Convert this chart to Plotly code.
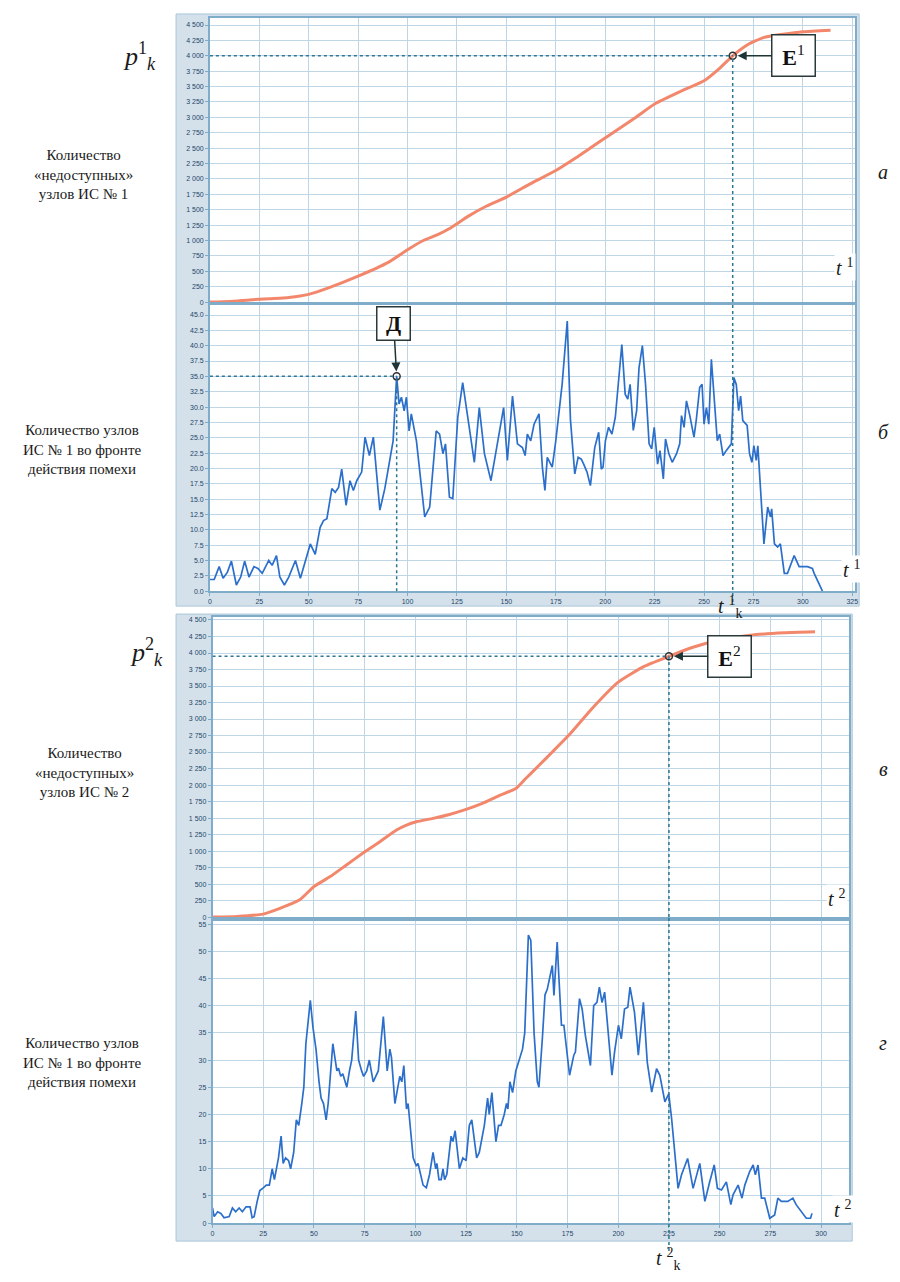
import plotly.graph_objects as go

# ---------------- data ----------------
# panel a: cumulative number of "unavailable" nodes, IS No 1
t_a = [0, 10, 20, 30, 40, 50, 60, 75, 90, 100, 108, 115, 121, 131, 140, 150, 162, 175, 185,
       193, 203, 215, 225, 238, 250, 258, 264.5, 272, 280, 290, 300, 314]
p_a = [0, 10, 35, 55, 75, 125, 230, 420, 640, 850, 1000, 1090, 1190, 1400, 1560, 1705, 1920,
       2137, 2340, 2515, 2731, 2990, 3217, 3420, 3594, 3800, 4000, 4180, 4296, 4350, 4390, 4415]

# panel b: nodes of IS No 1 in the interference front
t_b = [0, 2.2, 4.7, 6.7, 8.9, 10.9, 13.4, 15.6, 17.6, 19.8,
       22.3, 24.3, 26.5, 29.8, 31.5, 33.7, 35.4, 37.7, 39.9, 43.3,
       45.8, 48.3, 50.8, 53.3, 55.8, 57.5, 59.2, 61.7, 63.4, 65.1,
       66.7, 68.9, 70.9, 72.6, 74.3, 76.8, 78.5, 80.7, 82.7, 86.0,
       88.5, 92.7, 94.5, 95.7, 96.9, 98.3, 99.4, 100.8, 101.9, 104.5,
       108.7, 111.2, 114.5, 116.2, 117.9, 119.2, 121.2, 122.9, 125.4, 127.9,
       130.1, 133.8, 136.3, 138.9, 142.2, 145.5, 148.6, 150.5, 153.1, 155.6,
       158.1, 159.5, 160.6, 162.3, 164.0, 166.5, 168.2, 169.5, 170.7, 173.2,
       175.0, 178.2, 180.8, 182.4, 184.6, 186.3, 187.9, 189.1, 190.8, 192.5,
       194.7, 196.7, 198.0, 198.9, 200.1, 201.7, 203.4, 205.1, 206.7, 208.4,
       210.1, 211.4, 212.6, 214.2, 215.9, 217.1, 218.8, 220.4, 222.2, 223.5,
       224.8, 226.5, 227.7, 229.4, 230.5, 232.2, 233.9, 236.1, 237.7, 238.6,
       239.9, 241.1, 242.8, 244.9, 246.1, 247.8, 249.0, 250.0, 251.2, 252.4,
       253.7, 255.4, 256.7, 257.9, 259.6, 261.2, 263.8, 265.1, 266.3, 267.5,
       268.5, 269.6, 271.8, 273.0, 274.2, 275.2, 276.4, 277.2, 280.3, 282.2,
       283.6, 284.2, 285.6, 287.2, 288.6, 290.6, 292.2, 295.6, 298.1, 302.3,
       304.8, 305.7, 308.2, 309.9]
n_b = [1.9, 1.9, 4.0, 2.1, 3.1, 4.9, 1.0, 2.3, 4.9, 2.3,
       4.0, 3.7, 2.9, 5.0, 4.2, 5.8, 2.3, 1.0, 2.3, 5.0,
       2.1, 5.0, 7.7, 6.0, 10.4, 11.5, 11.8, 16.7, 16.1, 16.9,
       19.9, 14.0, 18.0, 16.4, 18.0, 19.4, 25.1, 22.1, 25.1, 13.2,
       16.7, 24.5, 35.0, 30.5, 31.6, 29.4, 31.6, 26.1, 28.9, 24.5,
       12.1, 13.7, 26.1, 25.6, 22.4, 24.0, 15.3, 15.1, 28.3, 34.0,
       28.9, 21.0, 29.9, 22.4, 18.0, 24.0, 29.9, 21.3, 31.8, 24.0,
       23.4, 22.1, 25.6, 24.5, 27.2, 28.9, 20.2, 16.4, 21.8, 20.2,
       24.5, 33.7, 44.0, 28.0, 19.1, 21.8, 21.5, 20.7, 19.4, 17.2,
       23.4, 25.9, 19.9, 20.2, 24.5, 26.7, 25.6, 28.3, 33.7, 40.2,
       32.1, 31.3, 33.7, 26.2, 29.4, 36.4, 40.0, 33.7, 24.0, 23.2,
       26.7, 20.7, 22.9, 18.3, 24.8, 22.4, 21.0, 22.4, 24.0, 28.6,
       26.7, 31.0, 28.6, 25.1, 28.0, 33.2, 33.7, 27.2, 29.9, 27.2,
       37.8, 31.0, 24.5, 25.6, 22.1, 22.9, 24.0, 34.8, 33.7, 29.4,
       31.8, 27.8, 27.0, 22.4, 21.0, 23.7, 21.3, 23.7, 7.7, 13.7,
       12.1, 13.4, 7.7, 7.2, 7.7, 2.9, 2.9, 5.8, 4.0, 4.0,
       3.7, 2.9, 1.2, 0.0]

# panel c: cumulative number of "unavailable" nodes, IS No 2
t_c = [0, 12, 25, 33.5, 43, 50, 58, 66, 74, 82.5, 90.7, 95.6, 100.5, 108.7, 116.8, 125, 133,
       141, 149.5, 154.4, 161, 167.5, 175.6, 187, 200, 213, 225, 236, 249, 265, 282, 297]
p_c = [0, 10, 45, 136, 262, 463, 614, 790, 966, 1143, 1319, 1394, 1444, 1495, 1555, 1631, 1721,
       1837, 1948, 2099, 2300, 2501, 2753, 3156, 3558, 3800, 3950, 4080, 4190, 4270, 4305, 4320]

# panel d: nodes in the interference front (second case)
t_d = [0, 0.8, 2.5, 4.1, 5.7, 8.2, 9.8, 11.4, 13.1, 14.7,
       16.5, 18.5, 19.5, 20.5, 22.0, 23.3, 25.0, 26.5, 28.0, 29.4,
       30.5, 32.5, 33.8, 34.8, 36.0, 37.5, 38.5, 40.0, 41.3, 42.5,
       44.0, 45.0, 46.0, 47.5, 48.2, 49.5, 51.0, 52.5, 53.5, 54.7,
       56.0, 57.0, 59.3, 60.5, 61.3, 62.1, 63.2, 64.2, 66.2, 67.5,
       68.6, 70.6, 72.0, 73.5, 74.5, 76.0, 77.3, 79.2, 81.7, 84.2,
       86.1, 87.4, 88.2, 89.9, 91.0, 92.3, 93.3, 94.3, 95.6, 96.4,
       98.9, 100.5, 101.3, 103.8, 105.4, 107.0, 108.7, 110.0, 110.6, 111.6,
       112.7, 113.6, 114.4, 115.5, 117.6, 118.5, 119.6, 121.7, 123.4, 125.0,
       126.6, 127.8, 130.2, 131.5, 134.0, 135.6, 136.4, 137.7, 139.7, 141.0,
       142.2, 143.8, 144.9, 145.6, 146.6, 147.9, 149.5, 151.1, 152.8, 153.9,
       155.7, 156.9, 158.5, 160.1, 160.9, 162.6, 163.9, 165.0, 166.5, 167.5,
       168.3, 169.9, 170.7, 172.0, 173.2, 176.0, 178.1, 178.9, 180.9, 182.2,
       183.8, 186.3, 187.9, 189.5, 190.7, 192.0, 193.3, 194.9, 196.9, 198.2,
       200.1, 201.5, 203.1, 204.7, 205.8, 208.0, 209.9, 212.4, 214.3, 216.5,
       218.9, 220.5, 223.0, 224.9, 226.3, 229.5, 231.2, 234.2, 236.9, 240.2,
       242.7, 245.1, 247.3, 248.9, 250.9, 253.3, 255.5, 256.6, 259.1, 261.0,
       262.4, 264.8, 266.5, 267.6, 268.9, 270.6, 272.2, 274.7, 277.1, 278.7,
       280.4, 283.6, 286.1, 287.7, 290.2, 292.7, 294.8, 295.5]
n_d = [2.8, 1.2, 2.1, 1.8, 1.0, 1.2, 2.8, 2.1, 2.8, 2.1,
       3.0, 3.0, 1.0, 1.2, 4.0, 6.0, 6.5, 7.0, 7.0, 10.0,
       8.0, 12.0, 16.0, 11.0, 12.0, 11.5, 10.0, 13.0, 19.0, 18.0,
       22.0, 25.0, 33.0, 38.0, 41.0, 36.0, 32.0, 26.0, 23.0, 22.0,
       19.0, 22.0, 33.0, 30.0, 28.0, 28.5, 27.0, 27.5, 25.0, 28.0,
       30.0, 39.0, 30.0, 28.0, 27.0, 28.0, 30.0, 26.0, 28.0, 38.0,
       28.0, 32.0, 30.5, 22.0, 24.0, 27.0, 26.0, 29.0, 21.0, 22.0,
       12.0, 10.5, 11.0, 7.0, 6.5, 9.0, 13.0, 10.0, 11.0, 8.0,
       8.0, 10.0, 8.0, 9.0, 16.0, 15.0, 17.0, 10.0, 12.0, 11.5,
       18.0, 19.0, 12.0, 13.0, 18.0, 23.0, 20.0, 24.0, 15.0, 18.0,
       18.0, 20.0, 22.0, 21.0, 26.0, 24.0, 28.0, 30.0, 32.0, 35.0,
       53.0, 52.0, 35.0, 26.0, 25.0, 34.0, 42.0, 43.0, 45.5, 47.4,
       41.9, 51.7, 45.5, 36.4, 36.4, 27.2, 30.9, 31.5, 41.3, 39.4,
       34.5, 29.0, 40.0, 40.6, 43.4, 40.6, 42.5, 35.8, 27.2, 31.5,
       36.4, 33.9, 39.4, 39.7, 43.4, 38.8, 30.9, 40.6, 29.6, 24.1,
       28.4, 27.2, 22.3, 23.8, 19.3, 6.4, 8.9, 11.9, 6.4, 11.0,
       4.0, 7.6, 10.7, 6.4, 6.1, 7.6, 3.4, 5.2, 7.0, 4.6,
       7.0, 9.5, 10.7, 8.9, 10.7, 4.6, 4.6, 0.9, 1.5, 4.6,
       4.0, 4.0, 4.6, 3.4, 2.1, 0.9, 0.9, 1.8]

# marked points
E1_t, E1_p = [264.5], [4000]
D_t, D_n = [94.5], [35.0]
E2_t, E2_p = [225.0], [3950]

# tick values / labels
yt_p = list(range(0, 4501, 250))
yt_p_text = [f"{v:,}".replace(",", " ") for v in yt_p]
yt_b = [i * 2.5 for i in range(19)]
yt_b_text = [f"{v:.1f}" for v in yt_b]
yt_d = list(range(0, 56, 5))
xt_1 = list(range(0, 326, 25))
xt_2 = list(range(0, 301, 25))

# ---------------- geometry (pixels of the page) ----------------
OFF = 8
W, H = 884, 1266


def PX(px):
    return (px - OFF) / W


def PY(py):
    return 1 - (py - OFF) / H


GRID = "#bfd6e7"
FRAME = "#7fadc9"
BAND = "#d5e1ea"
TICKF = dict(family="Liberation Sans, Arial, sans-serif", size=7, color="#24466b")
SERIF = "Liberation Serif, Times New Roman, DejaVu Serif, serif"
DOT = "#2d7590"
ORANGE = "#f2876c"
BLUE = "#2b6fcb"

fig = go.Figure()

fig.add_trace(go.Scatter(x=t_a, y=p_a, mode="lines", xaxis="x", yaxis="y",
                         line=dict(color=ORANGE, width=3, shape="spline", smoothing=0.5)))
fig.add_trace(go.Scatter(x=t_b, y=n_b, mode="lines", xaxis="x2", yaxis="y2",
                         line=dict(color=BLUE, width=1.7)))
fig.add_trace(go.Scatter(x=t_c, y=p_c, mode="lines", xaxis="x3", yaxis="y3",
                         line=dict(color=ORANGE, width=3, shape="spline", smoothing=0.5)))
fig.add_trace(go.Scatter(x=t_d, y=n_d, mode="lines", xaxis="x4", yaxis="y4",
                         line=dict(color=BLUE, width=1.7)))

mk = dict(symbol="circle-open", size=7, color="#333333", line=dict(width=1.5))
fig.add_trace(go.Scatter(x=E1_t, y=E1_p, mode="markers", marker=mk, xaxis="x", yaxis="y"))
fig.add_trace(go.Scatter(x=D_t, y=D_n, mode="markers", marker=mk, xaxis="x2", yaxis="y2"))
fig.add_trace(go.Scatter(x=E2_t, y=E2_p, mode="markers", marker=mk, xaxis="x3", yaxis="y3"))


def xax(dom, rng, ticks, labels, anchor):
    return dict(domain=[PX(dom[0]), PX(dom[1])], range=rng, tickvals=ticks,
                showticklabels=labels, ticks="outside" if labels else "", ticklen=3,
                tickcolor=FRAME, tickfont=TICKF, showgrid=True, gridcolor=GRID, gridwidth=1,
                showline=True, mirror=True, linecolor=FRAME, linewidth=1.5,
                zeroline=False, anchor=anchor, fixedrange=True)


def yax(dom, rng, ticks, text, anchor):
    return dict(domain=[PY(dom[1]), PY(dom[0])], range=rng, tickvals=ticks, ticktext=text,
                ticks="outside", ticklen=3, tickcolor=FRAME, tickfont=TICKF,
                showgrid=True, gridcolor=GRID, gridwidth=1, showline=True, mirror=True,
                linecolor=FRAME, linewidth=1.5, zeroline=False, anchor=anchor, fixedrange=True)


xr1 = [0, (858 - 209) / 1.988]
xr2 = [0, (852 - 211.7) / 2.04]
fig.update_layout(
    xaxis=xax((209, 858), xr1, xt_1, False, "y"),
    yaxis=yax((17, 302), [0, (302 - 17) / 15.44 * 250], yt_p, yt_p_text, "x"),
    xaxis2=xax((209, 858), xr1, xt_1, True, "y2"),
    yaxis2=yax((305, 592), [0, (592 - 305) / 15.39 * 2.5], yt_b, yt_b_text, "x2"),
    xaxis3=xax((211.7, 852), xr2, xt_2, False, "y3"),
    yaxis3=yax((618, 919), [0, (919 - 618) / 16.56 * 250], yt_p, yt_p_text, "x3"),
    xaxis4=xax((211.7, 852), xr2, xt_2, True, "y4"),
    yaxis4=yax((923, 1226), [0, (1226 - 923) / 27.27 * 5], yt_d, [str(v) for v in yt_d], "x4"),
)

shapes = []
# grey chart blocks
for (x0, x1, y0, y1) in [(175, 862, 13, 607), (175, 855, 615, 1244)]:
    shapes.append(dict(type="rect", xref="paper", yref="paper", x0=PX(x0), x1=PX(x1),
                       y0=PY(y1), y1=PY(y0), fillcolor=BAND,
                       line=dict(color="#a9c6da", width=1), layer="below"))
# white plot areas
for (x0, x1, y0, y1) in [(209, 858, 17, 302), (209, 858, 305, 592),
                         (211.7, 852, 618, 919), (211.7, 852, 923, 1226)]:
    shapes.append(dict(type="rect", xref="paper", yref="paper", x0=PX(x0), x1=PX(x1),
                       y0=PY(y1), y1=PY(y0), fillcolor="white", line=dict(width=0),
                       layer="below"))

dl = dict(color=DOT, width=1.5, dash="dot")
# E1 guides
shapes.append(dict(type="line", xref="x", yref="y", x0=0, x1=E1_t[0], y0=E1_p[0], y1=E1_p[0], line=dl))
shapes.append(dict(type="line", xref="x", yref="y", x0=E1_t[0], x1=E1_t[0], y0=0, y1=E1_p[0], line=dl))
shapes.append(dict(type="line", xref="x2", yref="paper", x0=E1_t[0], x1=E1_t[0],
                   y0=PY(603), y1=PY(302), line=dl))
# D guides
shapes.append(dict(type="line", xref="x2", yref="y2", x0=0, x1=D_t[0], y0=D_n[0], y1=D_n[0], line=dl))
shapes.append(dict(type="line", xref="x2", yref="y2", x0=D_t[0], x1=D_t[0], y0=0, y1=D_n[0], line=dl))
# E2 guides
shapes.append(dict(type="line", xref="x3", yref="y3", x0=0, x1=E2_t[0], y0=E2_p[0], y1=E2_p[0], line=dl))
shapes.append(dict(type="line", xref="x3", yref="y3", x0=E2_t[0], x1=E2_t[0], y0=0, y1=E2_p[0], line=dl))
shapes.append(dict(type="line", xref="x4", yref="paper", x0=E2_t[0], x1=E2_t[0],
                   y0=PY(1254), y1=PY(919), line=dl))
fig.update_layout(shapes=shapes)

ann = []
boxfont = dict(family=SERIF, size=22, color="#111111")
ann.append(dict(x=E1_t[0], y=E1_p[0], xref="x", yref="y", text="<b>E</b><sup>1</sup>",
                showarrow=True, ax=61, ay=0, arrowhead=2, arrowsize=1.2, arrowwidth=1.5,
                arrowcolor="#1d3535", standoff=5, bordercolor="#2a3a3a", borderwidth=1.5,
                bgcolor="white", width=40, height=38, font=boxfont))
ann.append(dict(x=D_t[0], y=D_n[0], xref="x2", yref="y2", text="<b>Д</b>",
                showarrow=True, ax=-3, ay=-53, arrowhead=2, arrowsize=1.2, arrowwidth=1.5,
                arrowcolor="#1d3535", standoff=5, bordercolor="#2a3a3a", borderwidth=1.5,
                bgcolor="white", width=30, height=30, font=boxfont))
ann.append(dict(x=E2_t[0], y=E2_p[0], xref="x3", yref="y3", text="<b>E</b><sup>2</sup>",
                showarrow=True, ax=61, ay=0, arrowhead=2, arrowsize=1.2, arrowwidth=1.5,
                arrowcolor="#1d3535", standoff=5, bordercolor="#2a3a3a", borderwidth=1.5,
                bgcolor="white", width=40, height=38, font=boxfont))


def txt(px, py, s, size=15, bg=None, align="center"):
    d = dict(x=PX(px), y=PY(py), xref="paper", yref="paper", text=s, showarrow=False,
             xanchor="center", yanchor="middle", align=align,
             font=dict(family=SERIF, size=size, color="#1a1a1a"))
    if bg:
        d["bgcolor"] = bg
    return d


ann.append(txt(138, 55, "<i>p</i><sup>1</sup><sub><i>k</i></sub>", size=26))
ann.append(txt(145, 653, "<i>p</i><sup>2</sup><sub><i>k</i></sub>", size=26))
ann.append(txt(82, 174, "Количество<br>«недоступных»<br>узлов ИС № 1"))
ann.append(txt(80, 450, "Количество узлов<br>ИС № 1 во фронте<br>действия помехи"))
ann.append(txt(83, 774, "Количество<br>«недоступных»<br>узлов ИС № 2"))
ann.append(txt(80, 1065, "Количество узлов<br>ИС № 1 во фронте<br>действия помехи"))
for (py, s) in [(172, "а"), (432, "б"), (770, "в"), (1045, "г")]:
    ann.append(txt(886, py, "<i>%s</i>" % s, size=20))
ann.append(txt(848, 267, "<i>t</i> <sup>1</sup>", size=20, bg="white"))
ann.append(txt(855, 570, "<i>t</i> <sup>1</sup>", size=20, bg="white"))
ann.append(txt(840, 900, "<i>t</i> <sup>2</sup>", size=20, bg="white"))
ann.append(txt(846, 1212, "<i>t</i> <sup>2</sup>", size=20, bg="white"))
ann.append(txt(733, 608, "<i>t</i> <sup>1</sup><sub>k</sub>", size=20))
ann.append(txt(670, 1262, "<i>t</i> <sup>2</sup><sub>k</sub>", size=20))
fig.update_layout(annotations=ann)

fig.update_layout(width=W, height=H, margin=dict(l=0, r=0, t=0, b=0, pad=0),
                  paper_bgcolor="white", plot_bgcolor="white", showlegend=False,
                  font=dict(family=SERIF))

fig.write_html("out.html")
